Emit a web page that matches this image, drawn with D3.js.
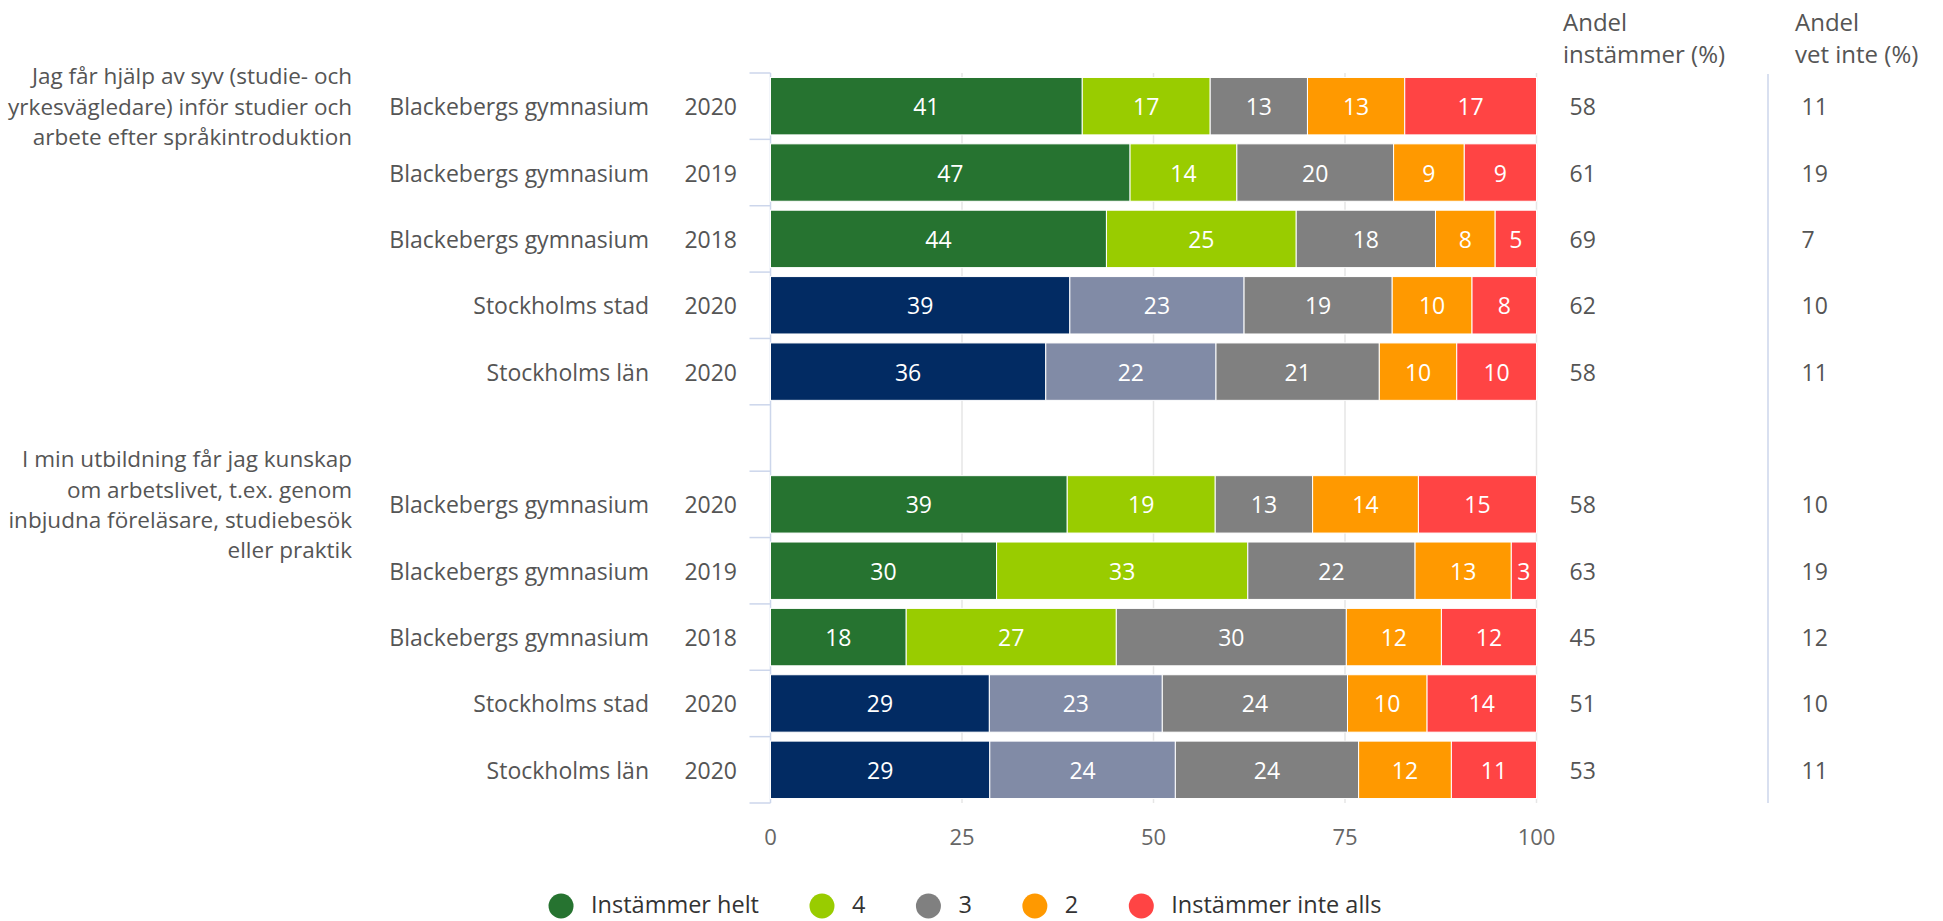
<!DOCTYPE html>
<html>
<head>
<meta charset="utf-8">
<script src="https://cdn.jsdelivr.net/npm/d3@7"></script>
<style>
  body { margin: 0; background: #fff; }
  text { font-family: "Open Sans", sans-serif; }
</style>
</head>
<body>
<div id="chart"></div>
<script>
const width = 1943
const height = 921
const margin = { top: 73, right: 407, bottom: 118, left: 770.5 }

/* DATA */
const seriesNames = ["Instämmer helt", "4", "3", "2", "Instämmer inte alls"]
const schools = ["Blackebergs gymnasium", "Blackebergs gymnasium", "Blackebergs gymnasium", "Stockholms stad", "Stockholms län", "",
    "Blackebergs gymnasium", "Blackebergs gymnasium", "Blackebergs gymnasium", "Stockholms stad", "Stockholms län"]
const years = ["2020", "2019", "2018", "2020", "2020", "", "2020", "2019", "2018", "2020", "2020"]

const helt = [40.7, 46.8, 43.9, 39.0, 35.9, null, 38.7, 29.6, 17.7, 28.6, 28.6]
const four = [16.7, 13.9, 24.8, 22.7, 22.2, null, 19.3, 32.9, 27.4, 22.6, 24.2]
const three = [12.7, 20.4, 18.2, 19.3, 21.3, null, 12.7, 21.9, 30.0, 24.2, 23.9]
const two = [12.7, 9.2, 7.8, 10.4, 10.1, null, 13.8, 12.6, 12.4, 10.4, 12.1]
const inteAlls = [17.2, 9.4, 5.4, 8.4, 10.4, null, 15.4, 3.3, 12.4, 14.3, 11.1]

const andelInstammer = [58, 61, 69, 62, 58, null, 58, 63, 45, 51, 53]
const andelVetInte = [11, 19, 7, 10, 11, null, 10, 19, 12, 10, 11]

const groupLabels = [
    ["Jag får hjälp av syv (studie- och", "yrkesvägledare) inför studier och", "arbete efter språkintroduktion"],
    ["I min utbildning får jag kunskap", "om arbetslivet, t.ex. genom", "inbjudna föreläsare, studiebesök", "eller praktik"]
]
const groupStart = [0, 6]

const xTicks = [0, 25, 50, 75, 100]
const headers = [["Andel", "instämmer (%)"], ["Andel", "vet inte (%)"]]

const colors = ["#267330", "#99cc00", "#808080", "#ff9900", "#ff4444"]
const regionColors = ["#022b63", "#818ba6"]

/* TABLE */
const table = schools.map((s, i) => ({
    idx: i,
    school: s,
    [seriesNames[0]]: helt[i] || 0,
    [seriesNames[1]]: four[i] || 0,
    [seriesNames[2]]: three[i] || 0,
    [seriesNames[3]]: two[i] || 0,
    [seriesNames[4]]: inteAlls[i] || 0
}))

const stacked = d3.stack()
    .keys(seriesNames)
    .offset(d3.stackOffsetExpand)(table)

/* SCALES */
const xScale = d3.scaleLinear()
    .domain([0, 100])
    .range([margin.left, width - margin.right + 0.5])

const yScale = d3.scaleBand()
    .domain(d3.range(schools.length))
    .range([margin.top, height - margin.bottom])
    .paddingInner(0.135)
    .paddingOuter(0.0675)

const svg = d3.select("#chart")
    .append("svg")
    .attr("width", width)
    .attr("height", height)

const plotTop = margin.top
const plotBottom = height - margin.bottom

// gridlines
svg.append("g")
    .selectAll("line")
    .data(xTicks.slice(1))
    .join("line")
    .attr("x1", d => xScale(d))
    .attr("x2", d => xScale(d))
    .attr("y1", plotTop)
    .attr("y2", plotBottom)
    .attr("stroke", "#e6e6e6")
    .attr("stroke-width", 1.5)

// y axis line + tick marks at band boundaries
const boundaries = d3.range(schools.length + 1).map(i => margin.top + i * yScale.step())
svg.append("line")
    .attr("x1", margin.left).attr("x2", margin.left)
    .attr("y1", plotTop).attr("y2", plotBottom)
    .attr("stroke", "#ccd6eb")
    .attr("stroke-width", 1.5)
svg.append("g")
    .selectAll("line")
    .data(boundaries)
    .join("line")
    .attr("x1", margin.left - 21)
    .attr("x2", margin.left)
    .attr("y1", d => d)
    .attr("y2", d => d)
    .attr("stroke", "#ccd6eb")
    .attr("stroke-width", 1.5)

// separator between the two right columns
svg.append("line")
    .attr("x1", 1768).attr("x2", 1768)
    .attr("y1", plotTop + 1).attr("y2", plotBottom)
    .attr("stroke", "#ccd6eb")
    .attr("stroke-width", 1.5)

// bars
const rowColor = (si, idx) => {
    if (si < 2 && schools[idx].startsWith("Stockholms")) return regionColors[si]
    return colors[si]
}

const layers = svg.append("g")
    .selectAll("g")
    .data(stacked)
    .join("g")

layers.selectAll("rect")
    .data((d, si) => d.map(p => ({ p, si })).filter(o => schools[o.p.data.idx] !== ""))
    .join("rect")
    .attr("x", o => xScale(o.p[0] * 100))
    .attr("width", o => xScale(o.p[1] * 100) - xScale(o.p[0] * 100))
    .attr("y", o => yScale(o.p.data.idx))
    .attr("height", yScale.bandwidth())
    .attr("fill", o => rowColor(o.si, o.p.data.idx))
    .attr("stroke", "#fff")
    .attr("stroke-width", 1)

layers.selectAll("text")
    .data((d, si) => d.map(p => ({ p, si })).filter(o => schools[o.p.data.idx] !== ""))
    .join("text")
    .attr("x", o => (xScale(o.p[0] * 100) + xScale(o.p[1] * 100)) / 2)
    .attr("y", o => yScale(o.p.data.idx) + yScale.bandwidth() / 2)
    .attr("text-anchor", "middle")
    .attr("dominant-baseline", "central")
    .attr("fill", "#fff")
    .attr("font-size", 23)
    .text(o => Math.round(o.p.data[seriesNames[o.si]]))

// category labels
const rowsWithData = d3.range(schools.length).filter(i => schools[i] !== "")
svg.append("g")
    .selectAll("text")
    .data(rowsWithData)
    .join("text")
    .attr("x", 649)
    .attr("y", i => yScale(i) + yScale.bandwidth() / 2)
    .attr("text-anchor", "end")
    .attr("dominant-baseline", "central")
    .attr("fill", "#555")
    .attr("font-size", 23)
    .text(i => schools[i])

svg.append("g")
    .selectAll("text")
    .data(rowsWithData)
    .join("text")
    .attr("x", 737)
    .attr("y", i => yScale(i) + yScale.bandwidth() / 2)
    .attr("text-anchor", "end")
    .attr("dominant-baseline", "central")
    .attr("fill", "#555")
    .attr("font-size", 23)
    .text(i => years[i])

// group labels
const lineH = 30.4
groupLabels.forEach((lines, g) => {
    const cy = yScale(groupStart[g]) + yScale.bandwidth() / 2
    svg.append("g")
        .selectAll("text")
        .data(lines)
        .join("text")
        .attr("x", 352)
        .attr("y", (d, k) => cy + (k - (lines.length - 1) / 2) * lineH)
        .attr("text-anchor", "end")
        .attr("dominant-baseline", "central")
        .attr("fill", "#555")
        .attr("font-size", 22.5)
        .text(d => d)
})

// x axis labels
svg.append("g")
    .selectAll("text")
    .data(xTicks)
    .join("text")
    .attr("x", d => xScale(d))
    .attr("y", 836)
    .attr("text-anchor", "middle")
    .attr("dominant-baseline", "central")
    .attr("fill", "#666")
    .attr("font-size", 22)
    .text(d => d)

// right hand columns
const colX = [1563, 1795]
const colVals = [andelInstammer, andelVetInte]
headers.forEach((lines, c) => {
    svg.append("g")
        .selectAll("text")
        .data(lines)
        .join("text")
        .attr("x", colX[c])
        .attr("y", (d, k) => 21 + k * 32)
        .attr("dominant-baseline", "central")
        .attr("fill", "#555")
        .attr("font-size", 24)
        .text(d => d)

    svg.append("g")
        .selectAll("text")
        .data(rowsWithData)
        .join("text")
        .attr("x", colX[c] + 6.5)
        .attr("y", i => yScale(i) + yScale.bandwidth() / 2)
        .attr("dominant-baseline", "central")
        .attr("fill", "#555")
        .attr("font-size", 23)
        .text(i => colVals[c][i])
})

// legend
const legendY = 904
const legend = svg.append("g")
const items = legend.selectAll("g")
    .data(seriesNames)
    .join("g")
items.append("circle")
    .attr("r", 12.5)
    .attr("cy", legendY + 2)
    .attr("fill", (d, i) => colors[i])
items.append("text")
    .attr("x", 30)
    .attr("y", legendY)
    .attr("dominant-baseline", "central")
    .attr("fill", "#333")
    .attr("font-size", 23.5)
    .text(d => d)

let cursor = 0
const offsets = []
items.each(function () {
    const w = d3.select(this).select("text").node().getComputedTextLength()
    offsets.push(cursor)
    cursor += 30 + w + 63
})
const totalW = cursor - 63 + 12.5
const startX = 965 - totalW / 2 + 12.5
items.attr("transform", (d, i) => `translate(${startX + offsets[i]}, 0)`)
items.select("circle").attr("cx", 0)
</script>
</body>
</html>
